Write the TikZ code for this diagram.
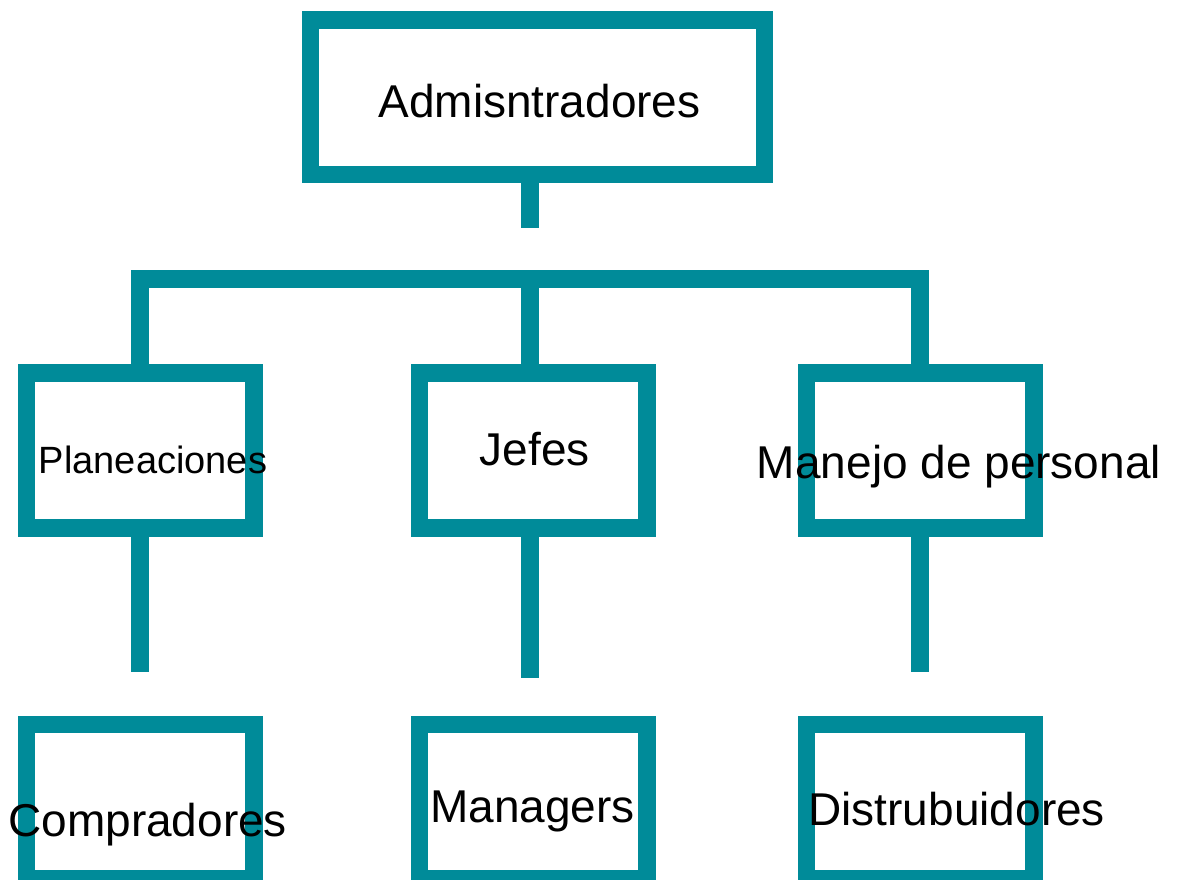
\documentclass[tikz,border=0pt]{standalone}
\usepackage{fontspec}
\setmainfont{Liberation Sans}
\usetikzlibrary{positioning}
\definecolor{orgteal}{RGB}{0,139,153}

\begin{document}
\begin{tikzpicture}[
    x=1pt,y=-1pt,
    orgbox/.style={draw=orgteal,line width=17.5pt,minimum width=227.5pt,minimum height=154.6pt,inner sep=0pt},
    conn/.style={draw=orgteal,line width=17.5pt},
    lbl/.style={anchor=base,inner sep=0pt,font=\fontsize{46}{55}\selectfont}
]
\useasboundingbox (0,0) rectangle (1177,879);

% Top level
\node[orgbox,minimum width=454.2pt,minimum height=154.3pt] (admin) at (537.6,97.2) {};
\coordinate (admstem) at (530,227.7);
\coordinate (bar) at (530,279);

% Middle level
\node[orgbox] (plan) at (140,450.5) {};
\node[orgbox] (jefes) at (533,450.5) {};
\node[orgbox] (manejo) at (920,450.5) {};
\coordinate (planstem) at (140,671.7);
\coordinate (jefstem) at (530,677.5);
\coordinate (manstem) at (920,671.7);

% Bottom level
\node[orgbox] (comp) at (140,801.6) {};
\node[orgbox] (mgr) at (533,801.6) {};
\node[orgbox] (dist) at (920,801.6) {};

% Connections
\draw[conn] (admin.south -| admstem) -- (admstem);
\draw[conn] (plan.north) |- (bar) -| (manejo.north);
\draw[conn] (bar) -- (bar |- jefes.north);
\draw[conn] (plan.south) -- (planstem);
\draw[conn] (jefes.south -| jefstem) -- (jefstem);
\draw[conn] (manejo.south) -- (manstem);

% Labels
\node[lbl] (admintxt) at (539.5,117) {Admisntradores};
\node[lbl,font=\fontsize{38}{45}\selectfont] (plantxt) at (153,473.3) {Planeaciones};
\node[lbl] (jefestxt) at (534.7,465) {Jefes};
\node[lbl] (mantxt) at (959,478) {Manejo de personal};
\node[lbl] (comptxt) at (147.7,836.7) {Compradores};
\node[lbl] (mgrtxt) at (532.5,822.7) {Managers};
\node[lbl] (disttxt) at (956.7,825) {Distrubuidores};

\end{tikzpicture}
\end{document}
